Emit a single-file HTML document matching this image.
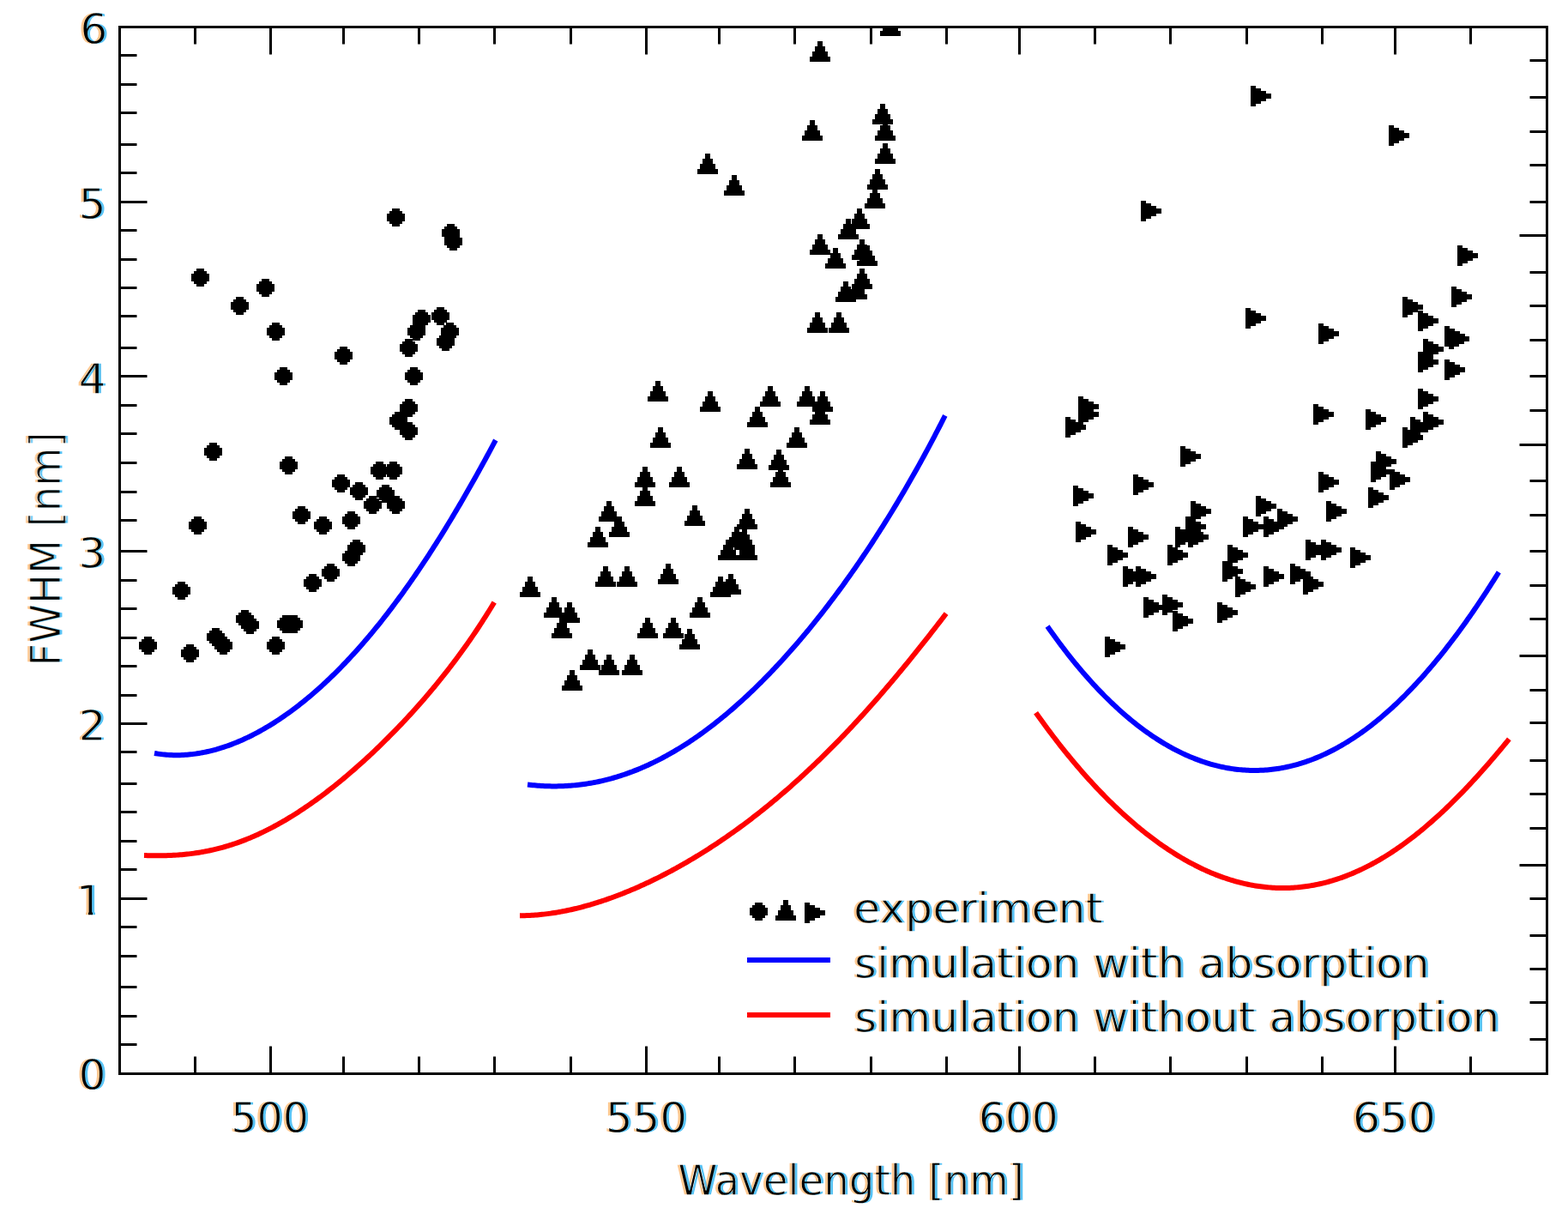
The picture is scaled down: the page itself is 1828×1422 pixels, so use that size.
<!DOCTYPE html><html><head><meta charset="utf-8"><title>FWHM vs Wavelength</title><style>html,body{margin:0;padding:0;background:#fff;}svg{display:block;}</style></head><body>
<svg width="1828" height="1422" viewBox="0 0 1828 1422">
<defs>
<path id="mc" d="M6 0h9v3h3v3h3v9h-3v3h-3v3h-9v-3h-3v-3h-3v-9h3v-3h3z"/>
<path id="mt" d="M9 0h6v6h3v6h3v6h3v6h-24v-6h3v-6h3v-6h3z"/>
<path id="mr" d="M0 0h6v3h6v3h6v3h6v6h-6v3h-6v3h-6v3h-6z"/>
<filter id="ct" x="-3%" y="-15%" width="106%" height="130%" color-interpolation-filters="sRGB"><feColorMatrix in="SourceGraphic" type="matrix" values="0 0 0 0 0  0 0 0 0 0  0 0 0 0 0  -0.299 -0.587 -0.114 1 0" result="core"/><feOffset in="core" dx="-3" dy="0" result="la"/><feFlood flood-color="#ffb060" flood-opacity="0.7" result="lc"/><feComposite in="lc" in2="la" operator="in" result="L"/><feOffset in="core" dx="3" dy="0" result="ra"/><feFlood flood-color="#10a8f0" flood-opacity="0.7" result="rc"/><feComposite in="rc" in2="ra" operator="in" result="R"/><feMerge><feMergeNode in="L"/><feMergeNode in="R"/><feMergeNode in="core"/></feMerge></filter>
<clipPath id="c1"><rect x="80" y="1020" width="50" height="43"/><rect x="103" y="1062" width="5" height="6"/></clipPath>
<clipPath id="pc"><rect x="139.5" y="31.5" width="1664.0" height="1220.0"/></clipPath>
</defs>
<rect width="1828" height="1422" fill="#fff"/>
<g clip-path="url(#pc)">
<path d="M180 877.93 L182 878.27 L184 878.59 L186 878.87 L188 879.13 L190 879.36 L192 879.56 L194 879.73 L196 879.88 L198 879.99 L200 880.08 L202 880.15 L204 880.18 L206 880.19 L208 880.17 L210 880.13 L212 880.06 L214 879.97 L216 879.85 L218 879.7 L220 879.53 L222 879.33 L224 879.11 L226 878.87 L228 878.6 L230 878.3 L232 877.99 L234 877.64 L236 877.28 L238 876.89 L240 876.48 L242 876.04 L244 875.58 L246 875.1 L248 874.6 L250 874.07 L252 873.52 L254 872.95 L256 872.35 L258 871.74 L260 871.1 L262 870.44 L264 869.75 L266 869.05 L268 868.32 L270 867.57 L272 866.8 L274 866.01 L276 865.2 L278 864.37 L280 863.51 L282 862.64 L284 861.74 L286 860.82 L288 859.89 L290 858.93 L292 857.95 L294 856.95 L296 855.93 L298 854.88 L300 853.82 L302 852.74 L304 851.64 L306 850.51 L308 849.37 L310 848.21 L312 847.02 L314 845.82 L316 844.59 L318 843.35 L320 842.09 L322 840.8 L324 839.5 L326 838.17 L328 836.83 L330 835.46 L332 834.08 L334 832.67 L336 831.25 L338 829.81 L340 828.34 L342 826.86 L344 825.35 L346 823.83 L348 822.29 L350 820.72 L352 819.14 L354 817.54 L356 815.91 L358 814.27 L360 812.61 L362 810.93 L364 809.22 L366 807.5 L368 805.76 L370 804 L372 802.22 L374 800.42 L376 798.59 L378 796.75 L380 794.89 L382 793.01 L384 791.11 L386 789.19 L388 787.25 L390 785.29 L392 783.31 L394 781.3 L396 779.28 L398 777.24 L400 775.18 L402 773.1 L404 771 L406 768.88 L408 766.74 L410 764.58 L412 762.4 L414 760.2 L416 757.98 L418 755.73 L420 753.47 L422 751.19 L424 748.89 L426 746.57 L428 744.23 L430 741.86 L432 739.48 L434 737.08 L436 734.66 L438 732.21 L440 729.75 L442 727.27 L444 724.76 L446 722.24 L448 719.7 L450 717.13 L452 714.55 L454 711.95 L456 709.32 L458 706.68 L460 704.01 L462 701.33 L464 698.62 L466 695.9 L468 693.15 L470 690.39 L472 687.6 L474 684.8 L476 681.97 L478 679.13 L480 676.26 L482 673.38 L484 670.47 L486 667.55 L488 664.6 L490 661.64 L492 658.65 L494 655.65 L496 652.63 L498 649.58 L500 646.52 L502 643.44 L504 640.34 L506 637.22 L508 634.07 L510 630.91 L512 627.74 L514 624.54 L516 621.32 L518 618.08 L520 614.83 L522 611.55 L524 608.26 L526 604.95 L528 601.62 L530 598.27 L532 594.9 L534 591.52 L536 588.11 L538 584.69 L540 581.25 L542 577.79 L544 574.32 L546 570.83 L548 567.31 L550 563.79 L552 560.24 L554 556.68 L556 553.1 L558 549.5 L560 545.89 L562 542.26 L564 538.61 L566 534.95 L568 531.27 L570 527.58 L572 523.86 L574 520.14 L576 516.4 L577.8 513.02" fill="none" stroke="#0000ff" stroke-width="6" stroke-linejoin="round"/>
<path d="M168 997.03 L170 997.1 L172 997.15 L174 997.2 L176 997.24 L178 997.28 L180 997.3 L182 997.31 L184 997.32 L186 997.31 L188 997.3 L190 997.27 L192 997.23 L194 997.19 L196 997.12 L198 997.05 L200 996.97 L202 996.87 L204 996.76 L206 996.63 L208 996.5 L210 996.35 L212 996.18 L214 996 L216 995.81 L218 995.6 L220 995.38 L222 995.14 L224 994.89 L226 994.62 L228 994.33 L230 994.03 L232 993.72 L234 993.39 L236 993.04 L238 992.67 L240 992.29 L242 991.9 L244 991.48 L246 991.05 L248 990.6 L250 990.14 L252 989.66 L254 989.16 L256 988.64 L258 988.11 L260 987.56 L262 986.99 L264 986.41 L266 985.81 L268 985.19 L270 984.55 L272 983.9 L274 983.23 L276 982.54 L278 981.83 L280 981.11 L282 980.37 L284 979.61 L286 978.83 L288 978.04 L290 977.23 L292 976.4 L294 975.55 L296 974.69 L298 973.81 L300 972.91 L302 972 L304 971.07 L306 970.12 L308 969.16 L310 968.17 L312 967.17 L314 966.16 L316 965.13 L318 964.08 L320 963.01 L322 961.93 L324 960.83 L326 959.72 L328 958.59 L330 957.44 L332 956.28 L334 955.1 L336 953.9 L338 952.69 L340 951.47 L342 950.22 L344 948.97 L346 947.69 L348 946.4 L350 945.1 L352 943.78 L354 942.45 L356 941.1 L358 939.74 L360 938.36 L362 936.97 L364 935.56 L366 934.14 L368 932.7 L370 931.25 L372 929.79 L374 928.31 L376 926.81 L378 925.31 L380 923.79 L382 922.25 L384 920.7 L386 919.14 L388 917.56 L390 915.98 L392 914.37 L394 912.76 L396 911.13 L398 909.49 L400 907.83 L402 906.16 L404 904.48 L406 902.78 L408 901.08 L410 899.35 L412 897.62 L414 895.87 L416 894.11 L418 892.34 L420 890.56 L422 888.76 L424 886.95 L426 885.12 L428 883.29 L430 881.44 L432 879.58 L434 877.7 L436 875.81 L438 873.91 L440 872 L442 870.07 L444 868.13 L446 866.18 L448 864.22 L450 862.24 L452 860.25 L454 858.24 L456 856.22 L458 854.19 L460 852.14 L462 850.08 L464 848.01 L466 845.92 L468 843.82 L470 841.71 L472 839.58 L474 837.44 L476 835.28 L478 833.1 L480 830.92 L482 828.71 L484 826.49 L486 824.26 L488 822.01 L490 819.74 L492 817.46 L494 815.16 L496 812.85 L498 810.51 L500 808.17 L502 805.8 L504 803.41 L506 801.01 L508 798.59 L510 796.15 L512 793.69 L514 791.21 L516 788.72 L518 786.2 L520 783.66 L522 781.1 L524 778.52 L526 775.92 L528 773.29 L530 770.65 L532 767.98 L534 765.28 L536 762.57 L538 759.83 L540 757.06 L542 754.27 L544 751.45 L546 748.61 L548 745.74 L550 742.84 L552 739.92 L554 736.96 L556 733.98 L558 730.97 L560 727.92 L562 724.85 L564 721.74 L566 718.6 L568 715.43 L570 712.23 L572 708.99 L574 705.71 L576 702.4 L576.2 702.07" fill="none" stroke="#ff0000" stroke-width="6" stroke-linejoin="round"/>
<path d="M615 914.52 L617 914.75 L619 914.96 L621 915.16 L623 915.35 L625 915.52 L627 915.68 L629 915.82 L631 915.94 L633 916.05 L635 916.15 L637 916.23 L639 916.3 L641 916.35 L643 916.38 L645 916.4 L647 916.4 L649 916.39 L651 916.36 L653 916.32 L655 916.26 L657 916.18 L659 916.09 L661 915.98 L663 915.85 L665 915.71 L667 915.55 L669 915.38 L671 915.19 L673 914.98 L675 914.76 L677 914.52 L679 914.26 L681 913.98 L683 913.69 L685 913.39 L687 913.06 L689 912.72 L691 912.36 L693 911.99 L695 911.6 L697 911.19 L699 910.76 L701 910.32 L703 909.86 L705 909.39 L707 908.89 L709 908.38 L711 907.86 L713 907.31 L715 906.75 L717 906.17 L719 905.58 L721 904.96 L723 904.33 L725 903.68 L727 903.02 L729 902.34 L731 901.64 L733 900.92 L735 900.19 L737 899.44 L739 898.67 L741 897.89 L743 897.09 L745 896.27 L747 895.43 L749 894.58 L751 893.71 L753 892.82 L755 891.92 L757 891 L759 890.06 L761 889.11 L763 888.13 L765 887.14 L767 886.14 L769 885.11 L771 884.07 L773 883.02 L775 881.94 L777 880.85 L779 879.74 L781 878.62 L783 877.48 L785 876.32 L787 875.14 L789 873.95 L791 872.74 L793 871.52 L795 870.28 L797 869.02 L799 867.74 L801 866.45 L803 865.14 L805 863.82 L807 862.47 L809 861.12 L811 859.74 L813 858.35 L815 856.94 L817 855.52 L819 854.08 L821 852.62 L823 851.15 L825 849.66 L827 848.15 L829 846.63 L831 845.09 L833 843.53 L835 841.96 L837 840.38 L839 838.77 L841 837.15 L843 835.52 L845 833.86 L847 832.2 L849 830.51 L851 828.81 L853 827.1 L855 825.37 L857 823.62 L859 821.85 L861 820.07 L863 818.28 L865 816.47 L867 814.64 L869 812.8 L871 810.94 L873 809.06 L875 807.17 L877 805.27 L879 803.34 L881 801.4 L883 799.45 L885 797.48 L887 795.5 L889 793.5 L891 791.48 L893 789.45 L895 787.4 L897 785.34 L899 783.26 L901 781.16 L903 779.05 L905 776.92 L907 774.78 L909 772.63 L911 770.45 L913 768.26 L915 766.06 L917 763.84 L919 761.6 L921 759.35 L923 757.08 L925 754.8 L927 752.5 L929 750.19 L931 747.86 L933 745.51 L935 743.15 L937 740.77 L939 738.38 L941 735.97 L943 733.54 L945 731.1 L947 728.64 L949 726.17 L951 723.68 L953 721.18 L955 718.66 L957 716.12 L959 713.57 L961 711 L963 708.41 L965 705.81 L967 703.19 L969 700.55 L971 697.9 L973 695.24 L975 692.55 L977 689.85 L979 687.13 L981 684.4 L983 681.65 L985 678.88 L987 676.1 L989 673.29 L991 670.48 L993 667.64 L995 664.79 L997 661.92 L999 659.03 L1001 656.12 L1003 653.2 L1005 650.26 L1007 647.3 L1009 644.33 L1011 641.33 L1013 638.32 L1015 635.29 L1017 632.24 L1019 629.18 L1021 626.09 L1023 622.99 L1025 619.87 L1027 616.73 L1029 613.57 L1031 610.39 L1033 607.19 L1035 603.98 L1037 600.74 L1039 597.48 L1041 594.21 L1043 590.91 L1045 587.6 L1047 584.26 L1049 580.91 L1051 577.53 L1053 574.14 L1055 570.72 L1057 567.28 L1059 563.82 L1061 560.34 L1063 556.84 L1065 553.32 L1067 549.77 L1069 546.2 L1071 542.61 L1073 539 L1075 535.37 L1077 531.71 L1079 528.03 L1081 524.33 L1083 520.6 L1085 516.85 L1087 513.08 L1089 509.28 L1091 505.46 L1093 501.62 L1095 497.75 L1097 493.85 L1099 489.93 L1101 485.99 L1101.8 484.4" fill="none" stroke="#0000ff" stroke-width="6" stroke-linejoin="round"/>
<path d="M606 1067.2 L608 1067.19 L610 1067.17 L612 1067.13 L614 1067.08 L616 1067 L618 1066.91 L620 1066.81 L622 1066.68 L624 1066.54 L626 1066.39 L628 1066.22 L630 1066.03 L632 1065.83 L634 1065.61 L636 1065.38 L638 1065.14 L640 1064.87 L642 1064.6 L644 1064.31 L646 1064 L648 1063.68 L650 1063.35 L652 1063 L654 1062.64 L656 1062.27 L658 1061.88 L660 1061.48 L662 1061.06 L664 1060.64 L666 1060.2 L668 1059.74 L670 1059.28 L672 1058.8 L674 1058.31 L676 1057.8 L678 1057.29 L680 1056.76 L682 1056.22 L684 1055.67 L686 1055.1 L688 1054.52 L690 1053.94 L692 1053.34 L694 1052.73 L696 1052.1 L698 1051.47 L700 1050.82 L702 1050.17 L704 1049.5 L706 1048.82 L708 1048.13 L710 1047.43 L712 1046.72 L714 1045.99 L716 1045.26 L718 1044.52 L720 1043.76 L722 1043 L724 1042.22 L726 1041.43 L728 1040.64 L730 1039.83 L732 1039.01 L734 1038.18 L736 1037.34 L738 1036.5 L740 1035.64 L742 1034.77 L744 1033.89 L746 1033 L748 1032.1 L750 1031.19 L752 1030.27 L754 1029.35 L756 1028.41 L758 1027.46 L760 1026.5 L762 1025.53 L764 1024.55 L766 1023.57 L768 1022.57 L770 1021.56 L772 1020.54 L774 1019.52 L776 1018.48 L778 1017.43 L780 1016.38 L782 1015.31 L784 1014.24 L786 1013.15 L788 1012.06 L790 1010.95 L792 1009.84 L794 1008.71 L796 1007.58 L798 1006.44 L800 1005.29 L802 1004.12 L804 1002.95 L806 1001.77 L808 1000.58 L810 999.38 L812 998.17 L814 996.95 L816 995.72 L818 994.48 L820 993.23 L822 991.97 L824 990.7 L826 989.43 L828 988.14 L830 986.84 L832 985.53 L834 984.22 L836 982.89 L838 981.55 L840 980.21 L842 978.85 L844 977.48 L846 976.11 L848 974.72 L850 973.33 L852 971.92 L854 970.51 L856 969.08 L858 967.65 L860 966.2 L862 964.75 L864 963.28 L866 961.81 L868 960.32 L870 958.83 L872 957.32 L874 955.81 L876 954.28 L878 952.74 L880 951.2 L882 949.64 L884 948.08 L886 946.5 L888 944.92 L890 943.32 L892 941.71 L894 940.1 L896 938.47 L898 936.83 L900 935.18 L902 933.53 L904 931.86 L906 930.18 L908 928.49 L910 926.79 L912 925.08 L914 923.36 L916 921.63 L918 919.89 L920 918.14 L922 916.38 L924 914.6 L926 912.82 L928 911.03 L930 909.22 L932 907.41 L934 905.58 L936 903.75 L938 901.9 L940 900.05 L942 898.18 L944 896.3 L946 894.42 L948 892.52 L950 890.61 L952 888.69 L954 886.76 L956 884.82 L958 882.87 L960 880.91 L962 878.93 L964 876.95 L966 874.96 L968 872.95 L970 870.94 L972 868.91 L974 866.88 L976 864.83 L978 862.78 L980 860.71 L982 858.63 L984 856.55 L986 854.45 L988 852.34 L990 850.22 L992 848.09 L994 845.96 L996 843.81 L998 841.65 L1000 839.48 L1002 837.3 L1004 835.11 L1006 832.91 L1008 830.7 L1010 828.48 L1012 826.25 L1014 824.01 L1016 821.76 L1018 819.5 L1020 817.23 L1022 814.95 L1024 812.66 L1026 810.36 L1028 808.05 L1030 805.73 L1032 803.4 L1034 801.07 L1036 798.72 L1038 796.36 L1040 794 L1042 791.62 L1044 789.24 L1046 786.85 L1048 784.45 L1050 782.04 L1052 779.62 L1054 777.19 L1056 774.75 L1058 772.31 L1060 769.85 L1062 767.39 L1064 764.92 L1066 762.44 L1068 759.95 L1070 757.46 L1072 754.96 L1074 752.44 L1076 749.93 L1078 747.4 L1080 744.87 L1082 742.32 L1084 739.78 L1086 737.22 L1088 734.66 L1090 732.09 L1092 729.51 L1094 726.93 L1096 724.34 L1098 721.74 L1100 719.14 L1102 716.53 L1103.1 715.09" fill="none" stroke="#ff0000" stroke-width="6" stroke-linejoin="round"/>
<path d="M1221.1 730.05 L1223.1 732.91 L1225.1 735.74 L1227.1 738.54 L1229.1 741.32 L1231.1 744.06 L1233.1 746.79 L1235.1 749.48 L1237.1 752.15 L1239.1 754.79 L1241.1 757.41 L1243.1 760 L1245.1 762.56 L1247.1 765.1 L1249.1 767.61 L1251.1 770.09 L1253.1 772.55 L1255.1 774.99 L1257.1 777.4 L1259.1 779.78 L1261.1 782.13 L1263.1 784.47 L1265.1 786.77 L1267.1 789.05 L1269.1 791.31 L1271.1 793.54 L1273.1 795.75 L1275.1 797.93 L1277.1 800.08 L1279.1 802.22 L1281.1 804.32 L1283.1 806.4 L1285.1 808.46 L1287.1 810.49 L1289.1 812.5 L1291.1 814.49 L1293.1 816.44 L1295.1 818.38 L1297.1 820.29 L1299.1 822.18 L1301.1 824.04 L1303.1 825.88 L1305.1 827.69 L1307.1 829.48 L1309.1 831.25 L1311.1 832.99 L1313.1 834.71 L1315.1 836.41 L1317.1 838.08 L1319.1 839.73 L1321.1 841.35 L1323.1 842.95 L1325.1 844.53 L1327.1 846.08 L1329.1 847.61 L1331.1 849.12 L1333.1 850.6 L1335.1 852.06 L1337.1 853.5 L1339.1 854.91 L1341.1 856.3 L1343.1 857.67 L1345.1 859.01 L1347.1 860.33 L1349.1 861.63 L1351.1 862.9 L1353.1 864.16 L1355.1 865.38 L1357.1 866.59 L1359.1 867.77 L1361.1 868.93 L1363.1 870.07 L1365.1 871.18 L1367.1 872.27 L1369.1 873.34 L1371.1 874.38 L1373.1 875.41 L1375.1 876.41 L1377.1 877.38 L1379.1 878.34 L1381.1 879.27 L1383.1 880.18 L1385.1 881.06 L1387.1 881.92 L1389.1 882.76 L1391.1 883.58 L1393.1 884.38 L1395.1 885.15 L1397.1 885.9 L1399.1 886.63 L1401.1 887.33 L1403.1 888.01 L1405.1 888.67 L1407.1 889.31 L1409.1 889.92 L1411.1 890.51 L1413.1 891.08 L1415.1 891.63 L1417.1 892.15 L1419.1 892.65 L1421.1 893.13 L1423.1 893.59 L1425.1 894.02 L1427.1 894.43 L1429.1 894.82 L1431.1 895.19 L1433.1 895.53 L1435.1 895.85 L1437.1 896.15 L1439.1 896.43 L1441.1 896.68 L1443.1 896.91 L1445.1 897.12 L1447.1 897.31 L1449.1 897.47 L1451.1 897.61 L1453.1 897.73 L1455.1 897.83 L1457.1 897.9 L1459.1 897.95 L1461.1 897.98 L1463.1 897.98 L1465.1 897.97 L1467.1 897.93 L1469.1 897.86 L1471.1 897.78 L1473.1 897.67 L1475.1 897.54 L1477.1 897.39 L1479.1 897.22 L1481.1 897.02 L1483.1 896.8 L1485.1 896.55 L1487.1 896.29 L1489.1 896 L1491.1 895.69 L1493.1 895.36 L1495.1 895 L1497.1 894.62 L1499.1 894.22 L1501.1 893.8 L1503.1 893.35 L1505.1 892.88 L1507.1 892.39 L1509.1 891.87 L1511.1 891.33 L1513.1 890.77 L1515.1 890.19 L1517.1 889.58 L1519.1 888.95 L1521.1 888.3 L1523.1 887.63 L1525.1 886.93 L1527.1 886.21 L1529.1 885.47 L1531.1 884.7 L1533.1 883.91 L1535.1 883.1 L1537.1 882.27 L1539.1 881.41 L1541.1 880.53 L1543.1 879.63 L1545.1 878.7 L1547.1 877.75 L1549.1 876.78 L1551.1 875.79 L1553.1 874.77 L1555.1 873.73 L1557.1 872.67 L1559.1 871.58 L1561.1 870.47 L1563.1 869.34 L1565.1 868.18 L1567.1 867.01 L1569.1 865.8 L1571.1 864.58 L1573.1 863.33 L1575.1 862.06 L1577.1 860.77 L1579.1 859.45 L1581.1 858.11 L1583.1 856.75 L1585.1 855.37 L1587.1 853.96 L1589.1 852.53 L1591.1 851.07 L1593.1 849.6 L1595.1 848.1 L1597.1 846.57 L1599.1 845.02 L1601.1 843.46 L1603.1 841.86 L1605.1 840.25 L1607.1 838.61 L1609.1 836.95 L1611.1 835.26 L1613.1 833.55 L1615.1 831.82 L1617.1 830.07 L1619.1 828.29 L1621.1 826.49 L1623.1 824.67 L1625.1 822.82 L1627.1 820.95 L1629.1 819.06 L1631.1 817.15 L1633.1 815.21 L1635.1 813.25 L1637.1 811.26 L1639.1 809.25 L1641.1 807.22 L1643.1 805.17 L1645.1 803.1 L1647.1 801 L1649.1 798.87 L1651.1 796.73 L1653.1 794.56 L1655.1 792.37 L1657.1 790.16 L1659.1 787.92 L1661.1 785.66 L1663.1 783.38 L1665.1 781.07 L1667.1 778.75 L1669.1 776.4 L1671.1 774.02 L1673.1 771.63 L1675.1 769.21 L1677.1 766.77 L1679.1 764.3 L1681.1 761.82 L1683.1 759.31 L1685.1 756.78 L1687.1 754.22 L1689.1 751.64 L1691.1 749.04 L1693.1 746.42 L1695.1 743.78 L1697.1 741.11 L1699.1 738.42 L1701.1 735.71 L1703.1 732.98 L1705.1 730.22 L1707.1 727.44 L1709.1 724.64 L1711.1 721.82 L1713.1 718.97 L1715.1 716.11 L1717.1 713.22 L1719.1 710.31 L1721.1 707.37 L1723.1 704.42 L1725.1 701.44 L1727.1 698.44 L1729.1 695.42 L1731.1 692.38 L1733.1 689.32 L1735.1 686.23 L1737.1 683.12 L1739.1 679.99 L1741.1 676.84 L1743.1 673.67 L1745.1 670.48 L1747.1 667.26 L1747.3 666.94" fill="none" stroke="#0000ff" stroke-width="6" stroke-linejoin="round"/>
<path d="M1207.6 830.64 L1209.6 833.46 L1211.6 836.27 L1213.6 839.05 L1215.6 841.81 L1217.6 844.55 L1219.6 847.27 L1221.6 849.97 L1223.6 852.65 L1225.6 855.3 L1227.6 857.94 L1229.6 860.55 L1231.6 863.15 L1233.6 865.72 L1235.6 868.28 L1237.6 870.81 L1239.6 873.33 L1241.6 875.82 L1243.6 878.3 L1245.6 880.75 L1247.6 883.18 L1249.6 885.6 L1251.6 887.99 L1253.6 890.37 L1255.6 892.72 L1257.6 895.06 L1259.6 897.37 L1261.6 899.67 L1263.6 901.94 L1265.6 904.2 L1267.6 906.44 L1269.6 908.65 L1271.6 910.85 L1273.6 913.03 L1275.6 915.19 L1277.6 917.33 L1279.6 919.45 L1281.6 921.55 L1283.6 923.63 L1285.6 925.7 L1287.6 927.74 L1289.6 929.76 L1291.6 931.77 L1293.6 933.76 L1295.6 935.72 L1297.6 937.67 L1299.6 939.6 L1301.6 941.51 L1303.6 943.4 L1305.6 945.27 L1307.6 947.12 L1309.6 948.95 L1311.6 950.77 L1313.6 952.56 L1315.6 954.34 L1317.6 956.1 L1319.6 957.83 L1321.6 959.55 L1323.6 961.25 L1325.6 962.93 L1327.6 964.6 L1329.6 966.24 L1331.6 967.86 L1333.6 969.47 L1335.6 971.06 L1337.6 972.62 L1339.6 974.17 L1341.6 975.7 L1343.6 977.21 L1345.6 978.7 L1347.6 980.17 L1349.6 981.62 L1351.6 983.06 L1353.6 984.47 L1355.6 985.87 L1357.6 987.25 L1359.6 988.6 L1361.6 989.94 L1363.6 991.26 L1365.6 992.56 L1367.6 993.84 L1369.6 995.1 L1371.6 996.35 L1373.6 997.57 L1375.6 998.77 L1377.6 999.96 L1379.6 1001.13 L1381.6 1002.27 L1383.6 1003.4 L1385.6 1004.51 L1387.6 1005.6 L1389.6 1006.66 L1391.6 1007.71 L1393.6 1008.74 L1395.6 1009.76 L1397.6 1010.75 L1399.6 1011.72 L1401.6 1012.67 L1403.6 1013.61 L1405.6 1014.52 L1407.6 1015.41 L1409.6 1016.29 L1411.6 1017.14 L1413.6 1017.98 L1415.6 1018.79 L1417.6 1019.59 L1419.6 1020.37 L1421.6 1021.12 L1423.6 1021.86 L1425.6 1022.58 L1427.6 1023.28 L1429.6 1023.95 L1431.6 1024.61 L1433.6 1025.25 L1435.6 1025.87 L1437.6 1026.47 L1439.6 1027.04 L1441.6 1027.6 L1443.6 1028.14 L1445.6 1028.66 L1447.6 1029.16 L1449.6 1029.63 L1451.6 1030.09 L1453.6 1030.53 L1455.6 1030.95 L1457.6 1031.35 L1459.6 1031.72 L1461.6 1032.08 L1463.6 1032.42 L1465.6 1032.74 L1467.6 1033.03 L1469.6 1033.31 L1471.6 1033.56 L1473.6 1033.8 L1475.6 1034.01 L1477.6 1034.21 L1479.6 1034.38 L1481.6 1034.54 L1483.6 1034.67 L1485.6 1034.78 L1487.6 1034.88 L1489.6 1034.95 L1491.6 1035 L1493.6 1035.03 L1495.6 1035.04 L1497.6 1035.03 L1499.6 1035 L1501.6 1034.95 L1503.6 1034.88 L1505.6 1034.78 L1507.6 1034.67 L1509.6 1034.54 L1511.6 1034.38 L1513.6 1034.21 L1515.6 1034.01 L1517.6 1033.79 L1519.6 1033.56 L1521.6 1033.3 L1523.6 1033.02 L1525.6 1032.72 L1527.6 1032.4 L1529.6 1032.05 L1531.6 1031.69 L1533.6 1031.31 L1535.6 1030.91 L1537.6 1030.48 L1539.6 1030.03 L1541.6 1029.57 L1543.6 1029.08 L1545.6 1028.57 L1547.6 1028.04 L1549.6 1027.49 L1551.6 1026.92 L1553.6 1026.33 L1555.6 1025.72 L1557.6 1025.09 L1559.6 1024.43 L1561.6 1023.76 L1563.6 1023.06 L1565.6 1022.35 L1567.6 1021.61 L1569.6 1020.85 L1571.6 1020.07 L1573.6 1019.27 L1575.6 1018.45 L1577.6 1017.61 L1579.6 1016.75 L1581.6 1015.87 L1583.6 1014.97 L1585.6 1014.04 L1587.6 1013.1 L1589.6 1012.13 L1591.6 1011.15 L1593.6 1010.14 L1595.6 1009.12 L1597.6 1008.07 L1599.6 1007 L1601.6 1005.91 L1603.6 1004.81 L1605.6 1003.68 L1607.6 1002.53 L1609.6 1001.36 L1611.6 1000.17 L1613.6 998.96 L1615.6 997.73 L1617.6 996.48 L1619.6 995.21 L1621.6 993.92 L1623.6 992.62 L1625.6 991.29 L1627.6 989.94 L1629.6 988.57 L1631.6 987.18 L1633.6 985.77 L1635.6 984.34 L1637.6 982.89 L1639.6 981.43 L1641.6 979.94 L1643.6 978.43 L1645.6 976.91 L1647.6 975.36 L1649.6 973.8 L1651.6 972.21 L1653.6 970.61 L1655.6 968.99 L1657.6 967.35 L1659.6 965.69 L1661.6 964.01 L1663.6 962.32 L1665.6 960.6 L1667.6 958.87 L1669.6 957.12 L1671.6 955.35 L1673.6 953.56 L1675.6 951.75 L1677.6 949.93 L1679.6 948.08 L1681.6 946.22 L1683.6 944.35 L1685.6 942.45 L1687.6 940.54 L1689.6 938.61 L1691.6 936.66 L1693.6 934.69 L1695.6 932.71 L1697.6 930.71 L1699.6 928.7 L1701.6 926.66 L1703.6 924.61 L1705.6 922.55 L1707.6 920.47 L1709.6 918.37 L1711.6 916.25 L1713.6 914.12 L1715.6 911.98 L1717.6 909.82 L1719.6 907.64 L1721.6 905.45 L1723.6 903.24 L1725.6 901.02 L1727.6 898.78 L1729.6 896.53 L1731.6 894.26 L1733.6 891.98 L1735.6 889.68 L1737.6 887.37 L1739.6 885.05 L1741.6 882.71 L1743.6 880.36 L1745.6 878 L1747.6 875.62 L1749.6 873.23 L1751.6 870.83 L1753.6 868.41 L1755.6 865.98 L1757.6 863.54 L1759.3 861.46" fill="none" stroke="#ff0000" stroke-width="6" stroke-linejoin="round"/>
<use href="#mc" x="451" y="243"/>
<use href="#mc" x="515" y="261"/>
<use href="#mc" x="518" y="271"/>
<use href="#mc" x="223" y="313"/>
<use href="#mc" x="299" y="325"/>
<use href="#mc" x="269" y="346"/>
<use href="#mc" x="481" y="361"/>
<use href="#mc" x="503" y="358"/>
<use href="#mc" x="475" y="376"/>
<use href="#mc" x="514" y="376"/>
<use href="#mc" x="509" y="388"/>
<use href="#mc" x="311" y="376"/>
<use href="#mc" x="466" y="395"/>
<use href="#mc" x="390" y="404"/>
<use href="#mc" x="320" y="428"/>
<use href="#mc" x="472" y="428"/>
<use href="#mc" x="466" y="465"/>
<use href="#mc" x="454" y="480"/>
<use href="#mc" x="466" y="492"/>
<use href="#mc" x="238" y="516"/>
<use href="#mc" x="326" y="532"/>
<use href="#mc" x="432" y="538"/>
<use href="#mc" x="448" y="538"/>
<use href="#mc" x="387" y="553"/>
<use href="#mc" x="408" y="562"/>
<use href="#mc" x="439" y="565"/>
<use href="#mc" x="424" y="578"/>
<use href="#mc" x="451" y="578"/>
<use href="#mc" x="341" y="590"/>
<use href="#mc" x="366" y="602"/>
<use href="#mc" x="399" y="596"/>
<use href="#mc" x="220" y="602"/>
<use href="#mc" x="405" y="629"/>
<use href="#mc" x="399" y="639"/>
<use href="#mc" x="375" y="657"/>
<use href="#mc" x="354" y="669"/>
<use href="#mc" x="201" y="678"/>
<use href="#mc" x="275" y="711"/>
<use href="#mc" x="281" y="718"/>
<use href="#mc" x="323" y="717"/>
<use href="#mc" x="332" y="717"/>
<use href="#mc" x="241" y="732"/>
<use href="#mc" x="250" y="742"/>
<use href="#mc" x="162" y="742"/>
<use href="#mc" x="211" y="751"/>
<use href="#mc" x="311" y="742"/>
<use href="#mt" x="755" y="444"/>
<use href="#mt" x="816" y="456"/>
<use href="#mt" x="758" y="498"/>
<use href="#mt" x="859" y="523"/>
<use href="#mt" x="740" y="544"/>
<use href="#mt" x="780" y="544"/>
<use href="#mt" x="740" y="566"/>
<use href="#mt" x="698" y="584"/>
<use href="#mt" x="710" y="602"/>
<use href="#mt" x="685" y="614"/>
<use href="#mt" x="798" y="589"/>
<use href="#mt" x="859" y="593"/>
<use href="#mt" x="837" y="629"/>
<use href="#mt" x="847" y="614"/>
<use href="#mt" x="859" y="629"/>
<use href="#mt" x="856" y="617"/>
<use href="#mt" x="606" y="672"/>
<use href="#mt" x="694" y="660"/>
<use href="#mt" x="719" y="660"/>
<use href="#mt" x="767" y="657"/>
<use href="#mt" x="828" y="672"/>
<use href="#mt" x="840" y="669"/>
<use href="#mt" x="634" y="696"/>
<use href="#mt" x="652" y="702"/>
<use href="#mt" x="643" y="720"/>
<use href="#mt" x="804" y="696"/>
<use href="#mt" x="743" y="720"/>
<use href="#mt" x="773" y="720"/>
<use href="#mt" x="792" y="733"/>
<use href="#mt" x="676" y="757"/>
<use href="#mt" x="698" y="763"/>
<use href="#mt" x="725" y="763"/>
<use href="#mt" x="655" y="781"/>
<use href="#mt" x="941" y="364"/>
<use href="#mt" x="966" y="364"/>
<use href="#mt" x="886" y="450"/>
<use href="#mt" x="929" y="450"/>
<use href="#mt" x="947" y="456"/>
<use href="#mt" x="871" y="474"/>
<use href="#mt" x="944" y="471"/>
<use href="#mt" x="917" y="498"/>
<use href="#mt" x="896" y="524"/>
<use href="#mt" x="898" y="544"/>
<use href="#mt" x="813" y="179"/>
<use href="#mt" x="844" y="204"/>
<use href="#mt" x="1020" y="167"/>
<use href="#mt" x="1011" y="197"/>
<use href="#mt" x="1008" y="219"/>
<use href="#mt" x="990" y="243"/>
<use href="#mt" x="977" y="255"/>
<use href="#mt" x="944" y="273"/>
<use href="#mt" x="962" y="289"/>
<use href="#mt" x="993" y="279"/>
<use href="#mt" x="999" y="286"/>
<use href="#mt" x="993" y="313"/>
<use href="#mt" x="974" y="328"/>
<use href="#mt" x="987" y="325"/>
<use href="#mt" x="1026" y="18"/>
<use href="#mt" x="944" y="48"/>
<use href="#mt" x="1017" y="121"/>
<use href="#mt" x="1020" y="140"/>
<use href="#mt" x="935" y="140"/>
<use href="#mr" x="1257" y="462"/>
<use href="#mr" x="1257" y="471"/>
<use href="#mr" x="1242" y="486"/>
<use href="#mr" x="1376" y="520"/>
<use href="#mr" x="1321" y="553"/>
<use href="#mr" x="1251" y="566"/>
<use href="#mr" x="1388" y="584"/>
<use href="#mr" x="1464" y="578"/>
<use href="#mr" x="1489" y="593"/>
<use href="#mr" x="1449" y="602"/>
<use href="#mr" x="1473" y="602"/>
<use href="#mr" x="1254" y="608"/>
<use href="#mr" x="1315" y="614"/>
<use href="#mr" x="1382" y="602"/>
<use href="#mr" x="1385" y="614"/>
<use href="#mr" x="1370" y="614"/>
<use href="#mr" x="1291" y="635"/>
<use href="#mr" x="1361" y="635"/>
<use href="#mr" x="1431" y="635"/>
<use href="#mr" x="1522" y="629"/>
<use href="#mr" x="1425" y="654"/>
<use href="#mr" x="1440" y="672"/>
<use href="#mr" x="1309" y="660"/>
<use href="#mr" x="1324" y="660"/>
<use href="#mr" x="1473" y="660"/>
<use href="#mr" x="1504" y="657"/>
<use href="#mr" x="1519" y="669"/>
<use href="#mr" x="1333" y="696"/>
<use href="#mr" x="1355" y="693"/>
<use href="#mr" x="1367" y="712"/>
<use href="#mr" x="1419" y="702"/>
<use href="#mr" x="1288" y="742"/>
<use href="#mr" x="1458" y="100"/>
<use href="#mr" x="1330" y="234"/>
<use href="#mr" x="1452" y="359"/>
<use href="#mr" x="1537" y="377"/>
<use href="#mr" x="1619" y="146"/>
<use href="#mr" x="1699" y="286"/>
<use href="#mr" x="1692" y="334"/>
<use href="#mr" x="1635" y="346"/>
<use href="#mr" x="1653" y="362"/>
<use href="#mr" x="1684" y="380"/>
<use href="#mr" x="1689" y="383"/>
<use href="#mr" x="1659" y="395"/>
<use href="#mr" x="1653" y="410"/>
<use href="#mr" x="1684" y="419"/>
<use href="#mr" x="1653" y="453"/>
<use href="#mr" x="1531" y="471"/>
<use href="#mr" x="1592" y="477"/>
<use href="#mr" x="1659" y="480"/>
<use href="#mr" x="1644" y="486"/>
<use href="#mr" x="1635" y="498"/>
<use href="#mr" x="1604" y="526"/>
<use href="#mr" x="1598" y="538"/>
<use href="#mr" x="1620" y="547"/>
<use href="#mr" x="1537" y="550"/>
<use href="#mr" x="1595" y="568"/>
<use href="#mr" x="1546" y="584"/>
<use href="#mr" x="1540" y="629"/>
<use href="#mr" x="1574" y="638"/>
</g>
<g>
<use href="#mc" x="874" y="1052"/>
<use href="#mt" x="904" y="1049"/>
<use href="#mr" x="938" y="1052"/>
<rect x="871" y="1116" width="97" height="6" fill="#0000ff"/>
<rect x="871" y="1180" width="97" height="6" fill="#ff0000"/>
</g>
<path d="M139.5 64.5H159.5 M139.5 98.5H159.5 M139.5 131.5H159.5 M139.5 168.5H159.5 M139.5 201.5H159.5 M139.5 235.5H171.5 M139.5 268.5H159.5 M139.5 302.5H159.5 M139.5 335.5H159.5 M139.5 368.5H159.5 M139.5 405.5H159.5 M139.5 438.5H171.5 M139.5 472.5H159.5 M139.5 505.5H159.5 M139.5 539.5H159.5 M139.5 573.5H159.5 M139.5 606.5H159.5 M139.5 642.5H171.5 M139.5 676.5H159.5 M139.5 709.5H159.5 M139.5 743.5H159.5 M139.5 776.5H159.5 M139.5 810.5H159.5 M139.5 843.5H171.5 M139.5 876.5H159.5 M139.5 913.5H159.5 M139.5 946.5H159.5 M139.5 980.5H159.5 M139.5 1013.5H159.5 M139.5 1047.5H171.5 M139.5 1080.5H159.5 M139.5 1114.5H159.5 M139.5 1150.5H159.5 M139.5 1184.5H159.5 M139.5 1217.5H159.5 M1783.5 70.5H1803.5 M1783.5 113.5H1803.5 M1783.5 153.5H1803.5 M1783.5 192.5H1803.5 M1783.5 235.5H1803.5 M1771.5 274.5H1803.5 M1783.5 317.5H1803.5 M1783.5 356.5H1803.5 M1783.5 396.5H1803.5 M1783.5 438.5H1803.5 M1783.5 478.5H1803.5 M1771.5 518.5H1803.5 M1783.5 560.5H1803.5 M1783.5 600.5H1803.5 M1783.5 642.5H1803.5 M1783.5 682.5H1803.5 M1783.5 721.5H1803.5 M1771.5 764.5H1803.5 M1783.5 804.5H1803.5 M1783.5 842.5H1803.5 M1783.5 886.5H1803.5 M1783.5 925.5H1803.5 M1783.5 965.5H1803.5 M1771.5 1008.5H1803.5 M1783.5 1047.5H1803.5 M1783.5 1090.5H1803.5 M1783.5 1129.5H1803.5 M1783.5 1168.5H1803.5 M1783.5 1211.5H1803.5 M227.5 31.5V51.5 M227.5 1231.5V1251.5 M315.5 31.5V63.5 M315.5 1219.5V1251.5 M400.5 31.5V51.5 M400.5 1231.5V1251.5 M488.5 31.5V51.5 M488.5 1231.5V1251.5 M576.5 31.5V51.5 M576.5 1231.5V1251.5 M665.5 31.5V51.5 M665.5 1231.5V1251.5 M753.5 31.5V63.5 M753.5 1219.5V1251.5 M838.5 31.5V51.5 M838.5 1231.5V1251.5 M926.5 31.5V51.5 M926.5 1231.5V1251.5 M1015.5 31.5V51.5 M1015.5 1231.5V1251.5 M1103.5 31.5V51.5 M1103.5 1231.5V1251.5 M1188.5 31.5V63.5 M1188.5 1219.5V1251.5 M1276.5 31.5V51.5 M1276.5 1231.5V1251.5 M1364.5 31.5V51.5 M1364.5 1231.5V1251.5 M1453.5 31.5V51.5 M1453.5 1231.5V1251.5 M1541.5 31.5V51.5 M1541.5 1231.5V1251.5 M1626.5 31.5V63.5 M1626.5 1219.5V1251.5 M1714.5 31.5V51.5 M1714.5 1231.5V1251.5" stroke="#000" stroke-width="3" fill="none"/>
<rect x="139.5" y="31.5" width="1664.0" height="1220.0" fill="none" stroke="#000" stroke-width="3"/>
<g filter="url(#ct)">
<text x="125.3" y="51" font-family="'DejaVu Sans', 'Liberation Sans', sans-serif" font-size="50.5" text-anchor="end" fill="#000" stroke="#fff" stroke-width="1.3">6</text>
<text x="123.6" y="255" font-family="'DejaVu Sans', 'Liberation Sans', sans-serif" font-size="50.5" text-anchor="end" fill="#000" stroke="#fff" stroke-width="1.3">5</text>
<text x="123.6" y="458.8" font-family="'DejaVu Sans', 'Liberation Sans', sans-serif" font-size="50.5" text-anchor="end" fill="#000" stroke="#fff" stroke-width="1.3">4</text>
<text x="123.4" y="662.4" font-family="'DejaVu Sans', 'Liberation Sans', sans-serif" font-size="50.5" text-anchor="end" fill="#000" stroke="#fff" stroke-width="1.3">3</text>
<text x="123.7" y="863.1" font-family="'DejaVu Sans', 'Liberation Sans', sans-serif" font-size="50.5" text-anchor="end" fill="#000" stroke="#fff" stroke-width="1.3">2</text>
<text x="120.6" y="1067.2" font-family="'DejaVu Sans', 'Liberation Sans', sans-serif" font-size="50.5" text-anchor="end" fill="#000" stroke="#fff" stroke-width="1.3" clip-path="url(#c1)">1</text>
<text x="123.6" y="1270" font-family="'DejaVu Sans', 'Liberation Sans', sans-serif" font-size="50.5" text-anchor="end" fill="#000" stroke="#fff" stroke-width="1.3">0</text>
<text x="314.55" y="1319.6" font-family="'DejaVu Sans', 'Liberation Sans', sans-serif" font-size="50.5" text-anchor="middle" textLength="90.56" lengthAdjust="spacingAndGlyphs" fill="#000" stroke="#fff" stroke-width="1.3">500</text>
<text x="753.44" y="1319.6" font-family="'DejaVu Sans', 'Liberation Sans', sans-serif" font-size="50.5" text-anchor="middle" textLength="95.46" lengthAdjust="spacingAndGlyphs" fill="#000" stroke="#fff" stroke-width="1.3">550</text>
<text x="1187.31" y="1319.6" font-family="'DejaVu Sans', 'Liberation Sans', sans-serif" font-size="50.5" text-anchor="middle" textLength="93.06" lengthAdjust="spacingAndGlyphs" fill="#000" stroke="#fff" stroke-width="1.3">600</text>
<text x="1625.31" y="1319.6" font-family="'DejaVu Sans', 'Liberation Sans', sans-serif" font-size="50.5" text-anchor="middle" textLength="97.19" lengthAdjust="spacingAndGlyphs" fill="#000" stroke="#fff" stroke-width="1.3">650</text>
<text x="992.05" y="1392.8" font-family="'DejaVu Sans', 'Liberation Sans', sans-serif" font-size="50.5" text-anchor="middle" textLength="403.77" lengthAdjust="spacingAndGlyphs" fill="#000" stroke="#fff" stroke-width="1.3">Wavelength [nm]</text>
<text x="994.91" y="1075.8" font-family="'DejaVu Sans', 'Liberation Sans', sans-serif" font-size="50.5" text-anchor="start" textLength="290.58" lengthAdjust="spacingAndGlyphs" fill="#000" stroke="#fff" stroke-width="1.3">experiment</text>
<text x="995.85" y="1139.9" font-family="'DejaVu Sans', 'Liberation Sans', sans-serif" font-size="50.5" text-anchor="start" textLength="670.89" lengthAdjust="spacingAndGlyphs" fill="#000" stroke="#fff" stroke-width="1.3">simulation with absorption</text>
<text x="996.05" y="1203.3" font-family="'DejaVu Sans', 'Liberation Sans', sans-serif" font-size="50.5" text-anchor="start" textLength="752.33" lengthAdjust="spacingAndGlyphs" fill="#000" stroke="#fff" stroke-width="1.3">simulation without absorption</text>
<text transform="translate(70.3,640) rotate(-90)" x="0" y="0" font-family="'DejaVu Sans', 'Liberation Sans', sans-serif" font-size="50.5" text-anchor="middle" textLength="273.13" lengthAdjust="spacingAndGlyphs" fill="#000" stroke="#fff" stroke-width="1.3">FWHM [nm]</text>
</g>
</svg></body></html>
